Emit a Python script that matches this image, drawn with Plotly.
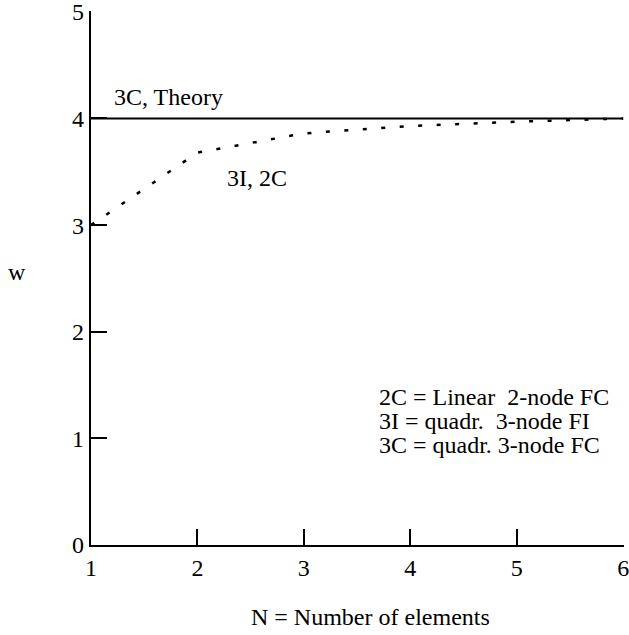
import plotly.graph_objects as go

N = [1, 2, 3, 4, 5, 6]
w_3I_2C = [3.0, 3.68, 3.86, 3.93, 3.97, 4.0]
w_3C_theory = [4.0, 4.0, 4.0, 4.0, 4.0, 4.0]
x_ticks = [1, 2, 3, 4, 5, 6]
y_ticks = [0, 1, 2, 3, 4, 5]
legend_lines = ["2C = Linear\u00a0 2-node FC", "3I = quadr.\u00a0 3-node FI", "3C = quadr. 3-node FC"]

FONT = "Liberation Serif, Times New Roman, serif"
FS = 24

fig = go.Figure()
fig.add_trace(go.Scatter(x=N, y=w_3C_theory, mode="lines",
                         line=dict(color="black", width=2.2), showlegend=False))
fig.add_trace(go.Scatter(x=N, y=w_3I_2C, mode="lines",
                         line=dict(color="black", width=2.5, dash="4px,14.5px"), showlegend=False))

annotations = [
    dict(x=1.2, y=4.2, text="3C, Theory", xanchor="left", yanchor="middle", showarrow=False),
    dict(x=2.26, y=3.44, text="3I, 2C", xanchor="left", yanchor="middle", showarrow=False),
]
for i, t in enumerate(legend_lines):
    annotations.append(dict(x=3.69, y=1.39 - i * 0.225, text=t, xanchor="left",
                            yanchor="middle", showarrow=False))
for a in annotations:
    a["font"] = dict(family=FONT, size=FS, color="black")
annotations.append(dict(x=-0.139, y=0.512, xref="x domain", yref="y domain", text="w",
                        showarrow=False, xanchor="center", yanchor="middle",
                        font=dict(family=FONT, size=FS, color="black")))
annotations.append(dict(x=0.5235, y=-0.135, xref="x domain", yref="y domain",
                        text="N = Number of elements", showarrow=False,
                        xanchor="center", yanchor="middle",
                        font=dict(family=FONT, size=FS, color="black")))

fig.update_layout(
    width=629, height=635,
    margin=dict(l=91, r=5, t=11, b=90, autoexpand=False),
    paper_bgcolor="white", plot_bgcolor="white",
    font=dict(family=FONT, size=FS, color="black"),
    annotations=annotations,
    xaxis=dict(range=[1, 6.008], tickvals=x_ticks, showgrid=False, zeroline=False,
               automargin=False, ticklabeloverflow="allow",
               showline=True, linecolor="black", linewidth=2.2,
               ticks="inside", ticklen=16, tickwidth=2.2, tickcolor="black",
               tickfont=dict(family=FONT, size=FS, color="black")),
    yaxis=dict(range=[0, 5.008], tickvals=y_ticks, showgrid=False, zeroline=False,
               automargin=False, ticklabeloverflow="allow",
               showline=True, linecolor="black", linewidth=2.2,
               ticks="inside", ticklen=16, tickwidth=2.2, tickcolor="black",
               tickfont=dict(family=FONT, size=FS, color="black")),
)

fig.write_html("out.html", config={"displayModeBar": False},
               post_script="document.body.style.margin='0';document.body.style.overflow='hidden';")
